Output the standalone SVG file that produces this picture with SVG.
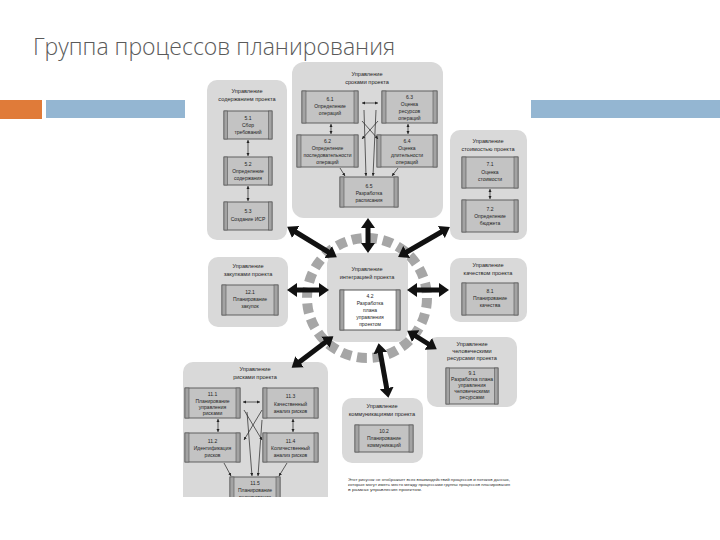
<svg xmlns="http://www.w3.org/2000/svg" width="720" height="540" viewBox="0 0 720 540">
<style>
.title{font-family:"Open Sans","Liberation Sans",sans-serif;font-size:23px;font-weight:300;fill:#5a5a5a}
.panel{fill:#d9d9d9}
.box{fill:#c3c3c3;stroke:#555;stroke-width:0.9}
.wbox{fill:#ffffff;stroke:#444;stroke-width:0.9}
.side{fill:#a3a3a3;stroke:#555;stroke-width:0.6}
.pt{font-family:"Liberation Sans",sans-serif;font-size:5.6px;fill:#1e1e1e;text-anchor:middle}
.bt{font-family:"Liberation Sans",sans-serif;font-size:5px;fill:#1e1e1e;text-anchor:middle}
.cap{font-family:"Liberation Sans",sans-serif;font-size:4.3px;fill:#333}
.thick{stroke:#111;stroke-width:5;fill:none;marker-start:url(#big);marker-end:url(#big)}
.thin{stroke:#222;stroke-width:0.7;fill:none;marker-end:url(#sm)}
.thin2{stroke:#222;stroke-width:0.7;fill:none;marker-start:url(#sm);marker-end:url(#sm)}
</style>
<defs>
<marker id="big" viewBox="0 0 10 14" refX="2" refY="7" markerWidth="2" markerHeight="2.8" orient="auto-start-reverse" markerUnits="strokeWidth"><path d="M0,0 L10,7 L0,14 z" fill="#111"/></marker>
<marker id="sm" viewBox="0 0 10 10" refX="10" refY="5" markerWidth="4.5" markerHeight="4.5" orient="auto-start-reverse" markerUnits="strokeWidth"><path d="M0,0 L10,5 L0,10 z" fill="#222"/></marker>
<clipPath id="clipB"><rect x="0" y="0" width="720" height="497"/></clipPath>
</defs>
<rect width="720" height="540" fill="#fff"/>
<text class="title" x="33" y="55">Группа процессов планирования</text>
<rect x="0" y="100" width="42" height="19" fill="#e07b39"/>
<rect x="46" y="100" width="139" height="18" fill="#94b6d2"/>
<rect x="531" y="100" width="189" height="18" fill="#94b6d2"/>

<circle cx="367" cy="298" r="60" fill="none" stroke="#a6a6a6" stroke-width="10" stroke-dasharray="10 5.7"/>

<g id="scope">
<rect class="panel" x="207" y="80" width="80" height="160" rx="10"/>
<text class="pt" x="247" y="93">Управление</text><text class="pt" x="247" y="101">содержанием проекта</text>
<g id="n51"><rect class="box" x="224" y="111" width="48" height="28"/><rect class="side" x="224" y="111" width="3.5" height="28"/><rect class="side" x="268.5" y="111" width="3.5" height="28"/>
<text class="bt" x="248" y="120">5.1</text><text class="bt" x="248" y="127">Сбор</text><text class="bt" x="248" y="134">требований</text></g>
<g id="n52"><rect class="box" x="224" y="157" width="48" height="28"/><rect class="side" x="224" y="157" width="3.5" height="28"/><rect class="side" x="268.5" y="157" width="3.5" height="28"/>
<text class="bt" x="248" y="166">5.2</text><text class="bt" x="248" y="173">Определение</text><text class="bt" x="248" y="180">содержания</text></g>
<g id="n53"><rect class="box" x="224" y="202" width="48" height="28"/><rect class="side" x="224" y="202" width="3.5" height="28"/><rect class="side" x="268.5" y="202" width="3.5" height="28"/>
<text class="bt" x="248" y="213">5.3</text><text class="bt" x="248" y="221">Создание ИСР</text></g>
</g>

<g id="time">
<rect class="panel" x="292" y="62" width="151" height="156" rx="12"/>
<text class="pt" x="367" y="76">Управление</text><text class="pt" x="367" y="84">сроками проекта</text>
<g id="n61"><rect class="box" x="302" y="91" width="56" height="32"/><rect class="side" x="302" y="91" width="4" height="32"/><rect class="side" x="354" y="91" width="4" height="32"/>
<text class="bt" x="330" y="101">6.1</text><text class="bt" x="330" y="108">Определение</text><text class="bt" x="330" y="115">операций</text></g>
<g id="n63"><rect class="box" x="382" y="91" width="55" height="32"/><rect class="side" x="382" y="91" width="4" height="32"/><rect class="side" x="433" y="91" width="4" height="32"/>
<text class="bt" x="409.5" y="99">6.3</text><text class="bt" x="409.5" y="106">Оценка</text><text class="bt" x="409.5" y="113">ресурсов</text><text class="bt" x="409.5" y="120">операций</text></g>
<g id="n62"><rect class="box" x="297" y="135" width="61" height="32"/><rect class="side" x="297" y="135" width="4" height="32"/><rect class="side" x="354" y="135" width="4" height="32"/>
<text class="bt" x="327.5" y="143">6.2</text><text class="bt" x="327.5" y="150">Определение</text><text class="bt" x="327.5" y="157">последовательности</text><text class="bt" x="327.5" y="164">операций</text></g>
<g id="n64"><rect class="box" x="377" y="135" width="60" height="32"/><rect class="side" x="377" y="135" width="4" height="32"/><rect class="side" x="433" y="135" width="4" height="32"/>
<text class="bt" x="407" y="143">6.4</text><text class="bt" x="407" y="150">Оценка</text><text class="bt" x="407" y="157">длительности</text><text class="bt" x="407" y="164">операций</text></g>
<g id="n65"><rect class="box" x="340" y="177" width="58" height="30"/><rect class="side" x="340" y="177" width="4" height="30"/><rect class="side" x="394" y="177" width="4" height="30"/>
<text class="bt" x="369" y="188">6.5</text><text class="bt" x="369" y="195">Разработка</text><text class="bt" x="369" y="202">расписания</text></g>
</g>

<g id="cost">
<rect class="panel" x="450" y="130" width="77" height="110" rx="10"/>
<text class="pt" x="488" y="143">Управление</text><text class="pt" x="488" y="151">стоимостью проекта</text>
<g id="n71"><rect class="box" x="462" y="157" width="56" height="31"/><rect class="side" x="462" y="157" width="4" height="31"/><rect class="side" x="514" y="157" width="4" height="31"/>
<text class="bt" x="490" y="166">7.1</text><text class="bt" x="490" y="174">Оценка</text><text class="bt" x="490" y="181">стоимости</text></g>
<g id="n72"><rect class="box" x="462" y="200" width="56" height="32"/><rect class="side" x="462" y="200" width="4" height="32"/><rect class="side" x="514" y="200" width="4" height="32"/>
<text class="bt" x="490" y="211">7.2</text><text class="bt" x="490" y="218">Определение</text><text class="bt" x="490" y="225">бюджета</text></g>
</g>

<g id="procurement">
<rect class="panel" x="208" y="257" width="80" height="70" rx="10"/>
<text class="pt" x="248" y="268">Управление</text><text class="pt" x="248" y="276">закупками проекта</text>
<g id="n121"><rect class="box" x="222" y="285" width="56" height="30"/><rect class="side" x="222" y="285" width="4" height="30"/><rect class="side" x="274" y="285" width="4" height="30"/>
<text class="bt" x="250" y="294">12.1</text><text class="bt" x="250" y="301">Планирование</text><text class="bt" x="250" y="308">закупок</text></g>
</g>

<g id="integration">
<rect class="panel" x="327" y="253" width="81" height="89" rx="12"/>
<text class="pt" x="367" y="271">Управление</text><text class="pt" x="367" y="279">интеграцией проекта</text>
<g id="n42"><rect class="wbox" x="340" y="290" width="60" height="40"/><rect class="side" x="340" y="290" width="4" height="40"/><rect class="side" x="396" y="290" width="4" height="40"/>
<text class="bt" x="370" y="298">4.2</text><text class="bt" x="370" y="305">Разработка</text><text class="bt" x="370" y="312">плана</text><text class="bt" x="370" y="319">управления</text><text class="bt" x="370" y="326">проектом</text></g>
</g>

<g id="quality">
<rect class="panel" x="450" y="258" width="77" height="64" rx="10"/>
<text class="pt" x="488" y="267">Управление</text><text class="pt" x="488" y="275">качеством проекта</text>
<g id="n81"><rect class="box" x="462" y="283" width="56" height="32"/><rect class="side" x="462" y="283" width="4" height="32"/><rect class="side" x="514" y="283" width="4" height="32"/>
<text class="bt" x="490" y="293">8.1</text><text class="bt" x="490" y="300">Планирование</text><text class="bt" x="490" y="307">качества</text></g>
</g>

<g id="hr">
<rect class="panel" x="427" y="337" width="90" height="70" rx="10"/>
<text class="pt" x="472" y="346">Управление</text><text class="pt" x="472" y="353">человеческими</text><text class="pt" x="472" y="360">ресурсами проекта</text>
<g id="n91"><rect class="box" x="446" y="368" width="52" height="36"/><rect class="side" x="446" y="368" width="3.5" height="36"/><rect class="side" x="494.5" y="368" width="3.5" height="36"/>
<text class="bt" x="472" y="375">9.1</text><text class="bt" x="472" y="381">Разработка плана</text><text class="bt" x="472" y="387">управления</text><text class="bt" x="472" y="393">человеческими</text><text class="bt" x="472" y="399">ресурсами</text></g>
</g>

<g id="risk" clip-path="url(#clipB)">
<rect class="panel" x="183" y="362" width="145" height="150" rx="10"/>
<text class="pt" x="255" y="371">Управление</text><text class="pt" x="255" y="379">рисками проекта</text>
<g id="n111"><rect class="box" x="185" y="388" width="55" height="30"/><rect class="side" x="185" y="388" width="4" height="30"/><rect class="side" x="236" y="388" width="4" height="30"/>
<text class="bt" x="212.5" y="396">11.1</text><text class="bt" x="212.5" y="403">Планирование</text><text class="bt" x="212.5" y="409">управления</text><text class="bt" x="212.5" y="415">рисками</text></g>
<g id="n113"><rect class="box" x="263" y="388" width="55" height="30"/><rect class="side" x="263" y="388" width="4" height="30"/><rect class="side" x="314" y="388" width="4" height="30"/>
<text class="bt" x="290.5" y="398">11.3</text><text class="bt" x="290.5" y="406">Качественный</text><text class="bt" x="290.5" y="413">анализ рисков</text></g>
<g id="n112"><rect class="box" x="185" y="433" width="55" height="29"/><rect class="side" x="185" y="433" width="4" height="29"/><rect class="side" x="236" y="433" width="4" height="29"/>
<text class="bt" x="212.5" y="443">11.2</text><text class="bt" x="212.5" y="450">Идентификация</text><text class="bt" x="212.5" y="457">рисков</text></g>
<g id="n114"><rect class="box" x="263" y="433" width="55" height="29"/><rect class="side" x="263" y="433" width="4" height="29"/><rect class="side" x="314" y="433" width="4" height="29"/>
<text class="bt" x="290.5" y="443">11.4</text><text class="bt" x="290.5" y="450">Количественный</text><text class="bt" x="290.5" y="457">анализ рисков</text></g>
<g id="n115"><rect class="box" x="230" y="477" width="50" height="28"/><rect class="side" x="230" y="477" width="4" height="28"/><rect class="side" x="276" y="477" width="4" height="28"/>
<text class="bt" x="255" y="485">11.5</text><text class="bt" x="255" y="492">Планирование</text><text class="bt" x="255" y="499">реагирования</text></g>
</g>

<g id="comm">
<rect class="panel" x="342" y="398" width="81" height="65" rx="10"/>
<text class="pt" x="382" y="408">Управление</text><text class="pt" x="382" y="416">коммуникациями проекта</text>
<g id="n102"><rect class="box" x="355" y="425" width="58" height="27"/><rect class="side" x="355" y="425" width="4" height="27"/><rect class="side" x="409" y="425" width="4" height="27"/>
<text class="bt" x="384" y="433">10.2</text><text class="bt" x="384" y="440">Планирование</text><text class="bt" x="384" y="447">коммуникаций</text></g>
</g>

<g id="connectors">
<line class="thick" x1="368" y1="226" x2="368" y2="245"/>
<line class="thick" x1="294" y1="231" x2="330" y2="253"/>
<line class="thick" x1="443" y1="231" x2="405" y2="253"/>
<line class="thick" x1="295" y1="290" x2="321" y2="290"/>
<line class="thick" x1="415" y1="290" x2="441" y2="290"/>
<line class="thick" x1="327" y1="341" x2="298" y2="363"/>
<line class="thick" x1="414" y1="335" x2="430" y2="345"/>
<line class="thick" x1="380" y1="351" x2="387" y2="390"/>

<line class="thin2" x1="248" y1="140" x2="248" y2="156"/>
<line class="thin2" x1="248" y1="186" x2="248" y2="201"/>
<line class="thin2" x1="490" y1="189" x2="490" y2="199"/>

<line class="thin2" x1="331" y1="124" x2="331" y2="134"/>
<line class="thin2" x1="408" y1="124" x2="408" y2="134"/>
<line class="thin2" x1="362" y1="103" x2="378" y2="103"/>
<line class="thin" x1="362" y1="121" x2="378" y2="139"/>
<line class="thin" x1="378" y1="121" x2="362" y2="139"/>
<line class="thin" x1="364" y1="110" x2="366" y2="176"/>
<line class="thin" x1="376" y1="110" x2="373" y2="176"/>
<line class="thin" x1="340" y1="168" x2="345" y2="176"/>
<line class="thin" x1="398" y1="168" x2="392" y2="176"/>

<line class="thin2" x1="243" y1="402" x2="260" y2="402"/>
<line class="thin2" x1="218" y1="419" x2="218" y2="432"/>
<line class="thin2" x1="293" y1="419" x2="293" y2="432"/>
<line class="thin" x1="244" y1="410" x2="262" y2="440"/>
<line class="thin" x1="262" y1="410" x2="244" y2="440"/>
<line class="thin" x1="247" y1="412" x2="252" y2="476"/>
<line class="thin" x1="262" y1="420" x2="258" y2="476"/>
<line class="thin" x1="224" y1="463" x2="231" y2="476"/>
<line class="thin" x1="287" y1="463" x2="279" y2="476"/>
</g>

<g id="caption">
<text class="cap" x="348" y="481" textLength="162" lengthAdjust="spacingAndGlyphs">Этот рисунок не отображает всех взаимодействий процессов и потоков данных,</text>
<text class="cap" x="348" y="486" textLength="162" lengthAdjust="spacingAndGlyphs">которые могут иметь место между процессами группы процессов планирования</text>
<text class="cap" x="348" y="491" textLength="74" lengthAdjust="spacingAndGlyphs">в рамках управления проектом.</text>
</g>
</svg>
